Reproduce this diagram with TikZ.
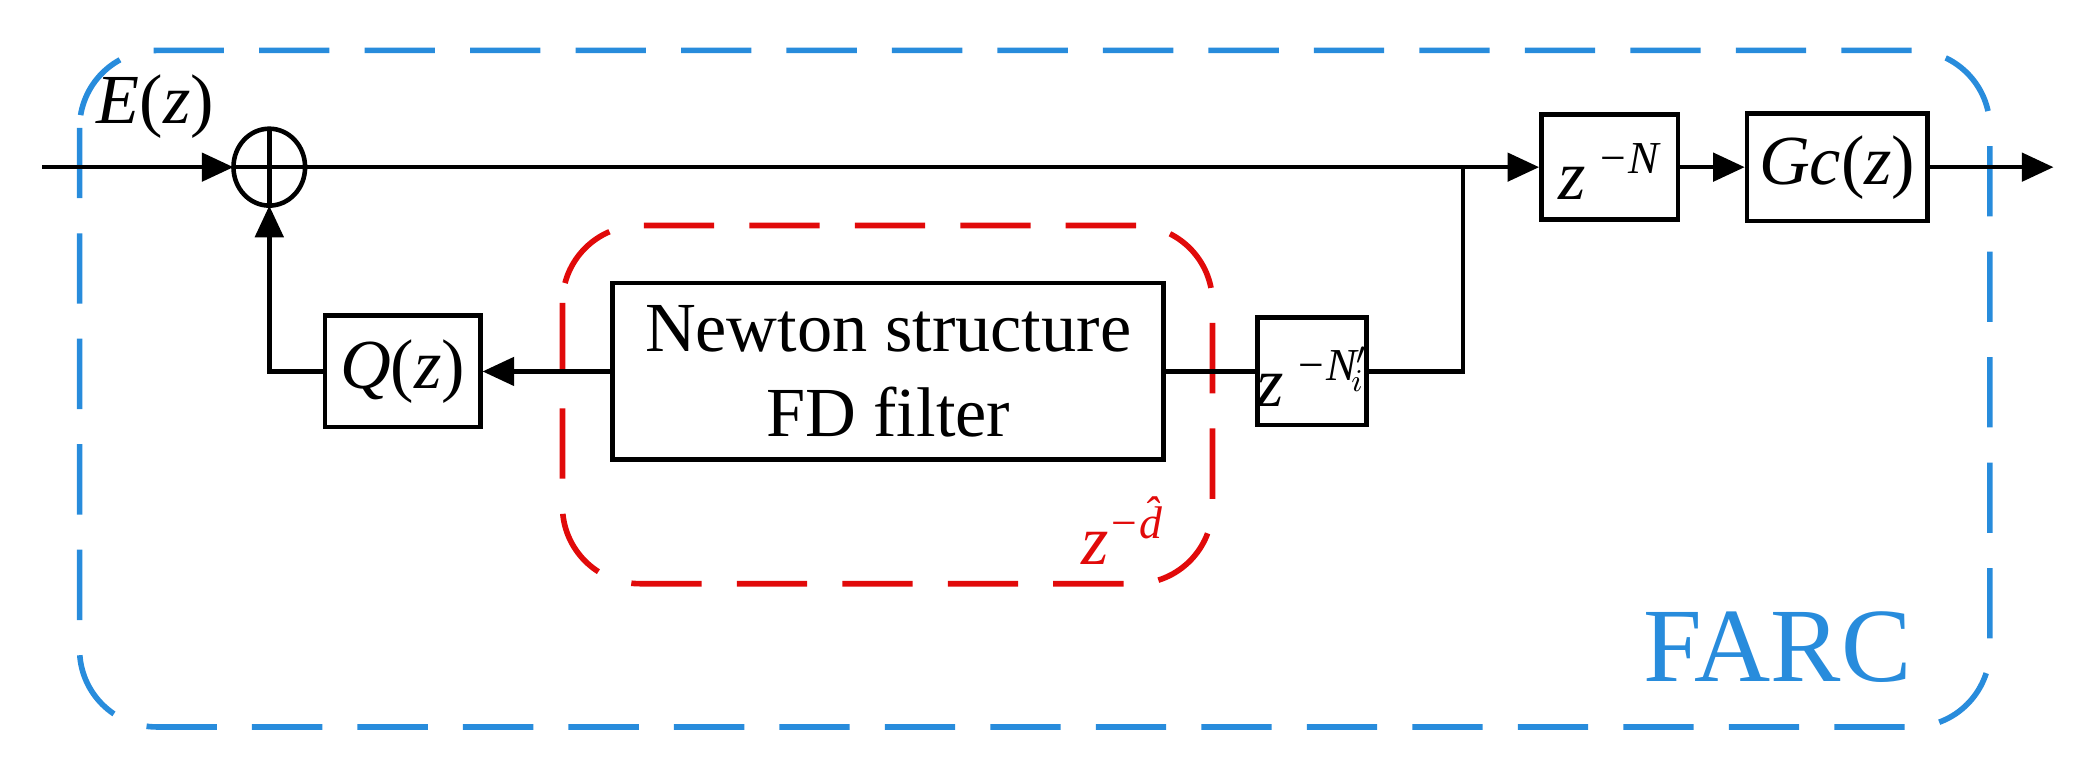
\documentclass[tikz,border=0pt]{standalone}
\usepackage{fontspec}
\setmainfont{Liberation Serif}
\usetikzlibrary{arrows.meta}
\definecolor{farc}{RGB}{40,140,220}
\definecolor{dred}{RGB}{225,10,10}
\newcommand{\ii}[1]{\textit{#1}}
\newcommand{\sps}[1]{\raisebox{0.8ex}{\fontsize{13}{15}\selectfont #1}}
\begin{document}
\begin{tikzpicture}[x=0.013265cm,y=-0.013265cm,
  blk/.style={draw,line width=1.3pt,inner sep=0pt},
  ln/.style={line width=1.3pt},
  arr/.style={ln,-{Triangle[length=9pt,width=8pt]}},
  f/.style={font=\fontsize{20}{24}\selectfont}]
\useasboundingbox (0,0) rectangle (1568,576);
% outer FARC box
\draw[farc,line width=1.6pt,dash pattern=on 20pt off 10pt,rounded corners=22] (60,38) rectangle (1500,548);
\node[farc,font=\fontsize{30}{34}\selectfont] (farc) at (1340,488) {FARC};
% red box
\draw[dred,line width=1.6pt,dash pattern=on 20pt off 10pt,rounded corners=22] (424,170) rectangle (914,440);
\node[dred,f] (dl) at (852,400) {\ii{z}\sps{\ii{−d̂}}};
% blocks
\draw[line width=1.3pt] (203,126) ellipse (27 and 29);
\draw[ln] (176,126) -- (230,126) (203,97) -- (203,155);
\coordinate (sumL) at (176,126);
\coordinate (sumB) at (203,155);
\coordinate (sumR) at (230,126);
\node[f] (E) at (117,80) {\ii{E}(\ii{z})};
\coordinate (in) at (32,126);
\node[blk,minimum width=1.366cm,minimum height=1.048cm] (zN) at (1213.5,126) {};
\node[f] (zNt) at (1213.5,129) {\ii{z}\,\sps{\ii{−N}}};
\node[blk,minimum width=1.804cm,minimum height=1.074cm,f] (Gc) at (1385,126) {\ii{Gc}(\ii{z})};
\coordinate (out) at (1548,126);
\coordinate (j) at (1103,126);
\coordinate (j2) at (1103,280);
\node[blk,minimum width=1.088cm,minimum height=1.074cm] (zNi) at (989,280) {};
\node[f] (zNit) at (989,284) {\ii{z}\,\sps{\ii{−N$'_{\!i}$}}};
\node[blk,minimum width=5.505cm,minimum height=1.764cm,f,align=center] (nw) at (669.5,280) {Newton structure\\FD filter};
\node[blk,minimum width=1.552cm,minimum height=1.114cm,f] (Q) at (303.5,280) {\ii{Q}(\ii{z})};
\coordinate (qc) at (203,280);
% connectors
\draw[arr] (in) -- (sumL);
\draw[arr] (sumR) -- (zN.west);
\draw[arr] (zN.east) -- (Gc.west);
\draw[arr] (Gc.east) -- (out);
\draw[ln] (j) -- (j2) -- (zNi.east);
\draw[ln] (zNi.west) -- (nw.east);
\draw[arr] (nw.west) -- (Q.east);
\draw[arr] (Q.west) -- (qc) -- (sumB);
\end{tikzpicture}
\end{document}
